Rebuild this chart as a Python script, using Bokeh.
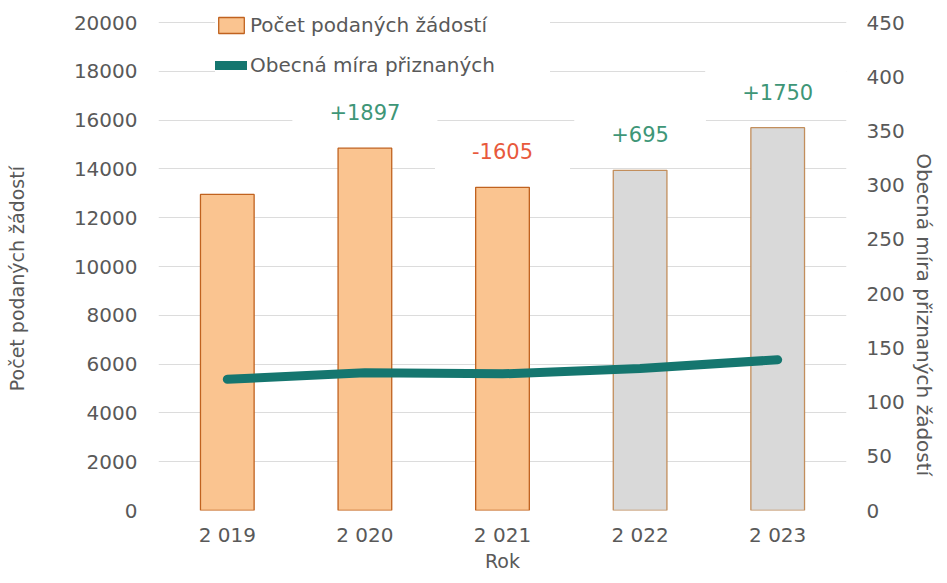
from bokeh.plotting import figure
from bokeh.models import (ColumnDataSource, FactorRange, Range1d, LinearAxis,
                          Legend, LegendItem, FixedTicker)
from bokeh.core.properties import value
from bokeh.embed import file_html
from bokeh.resources import INLINE

# ---- data ----
years = ["2\u00a0019", "2\u00a0020", "2\u00a0021", "2\u00a0022", "2\u00a0023"]
applications = [12953, 14850, 13245, 13940, 15690]
recognition_rate = [121, 127, 126, 131, 139]
left_ticks = [0, 2000, 4000, 6000, 8000, 10000, 12000, 14000, 16000, 18000, 20000]
right_ticks = [0, 50, 100, 150, 200, 250, 300, 350, 400, 450]

# ---- styles ----
FONT = "DejaVu Sans"
GREY = "#595959"
ORANGE_FILL = "#FAC490"
ORANGE_LINE = "#C0621F"
GREY_FILL = "#D9D9D9"
GREY_LINE = "#C28E5C"
TEAL = "#15766F"
UP = "#3E9677"
DOWN = "#E8593C"
NB = "\u00a0"

# layout: the plot frame is extended above the top tick so that the legend
# (which sits above the top gridline in the original) is not clipped
AXIS_PX = 488          # pixels between 0 and the top tick
HEADROOM_PX = 18       # extra frame pixels above the top tick
FRAME_H = AXIS_PX + HEADROOM_PX
left_end = left_ticks[-1] * FRAME_H / AXIS_PX
right_end = right_ticks[-1] * FRAME_H / AXIS_PX

bar_fill = [ORANGE_FILL if i < 3 else GREY_FILL for i in range(len(years))]
bar_line = [ORANGE_LINE if i < 3 else GREY_LINE for i in range(len(years))]

diffs = [applications[i] - applications[i - 1] for i in range(1, len(applications))]
diff_text = [f"{d:+d}" for d in diffs]
diff_color = [UP if d > 0 else DOWN for d in diffs]

bars_src = ColumnDataSource(dict(year=years, apps=applications, fill=bar_fill, line=bar_line))
line_src = ColumnDataSource(dict(year=years, rate=recognition_rate))
lab_src = ColumnDataSource(dict(year=years[1:], apps=applications[1:], text=diff_text, color=diff_color))

p = figure(x_range=FactorRange(*years), y_range=Range1d(0, left_end),
           frame_width=688, frame_height=FRAME_H,
           output_backend="svg", toolbar_location=None,
           min_border_left=158, min_border_right=85,
           min_border_top=22 - HEADROOM_PX, min_border_bottom=57)
p.extra_y_ranges = {"rate": Range1d(0, right_end)}
p.outline_line_color = None
p.background_fill_color = "white"
p.border_fill_color = "white"

p.xgrid.visible = False
p.ygrid.ticker = FixedTicker(ticks=left_ticks)
p.ygrid.grid_line_color = "#DCDCDC"
p.ygrid.grid_line_width = 1

bars = p.vbar(x="year", top="apps", width=0.39, source=bars_src,
              fill_color="fill", line_color="line", line_width=1.3)
line = p.line(x="year", y="rate", source=line_src, y_range_name="rate",
              line_color=TEAL, line_width=9, line_cap="round", line_join="round")

p.text(x="year", y="apps", text="text", source=lab_src, text_color="color",
       text_font=value(FONT), text_font_size="21px", text_align="center",
       text_baseline="middle", y_offset=-36,
       background_fill_color="white", padding=(37, 13))

def style_axis(ax, size="20px", label_size="20px"):
    ax.axis_line_color = None
    ax.major_tick_line_color = None
    ax.minor_tick_line_color = None
    ax.major_tick_out = 0
    ax.major_tick_in = 0
    ax.minor_tick_out = 0
    ax.minor_tick_in = 0
    ax.major_label_text_font = FONT
    ax.major_label_text_font_size = size
    ax.major_label_text_color = GREY
    ax.axis_label_text_font = FONT
    ax.axis_label_text_font_size = label_size
    ax.axis_label_text_color = GREY
    ax.axis_label_text_font_style = "normal"

yl = p.yaxis[0]
yl.ticker = FixedTicker(ticks=left_ticks)
yl.axis_label = "Počet podaných žádostí" + NB * 7
style_axis(yl, label_size="19px")
yl.major_label_standoff = 21
yl.axis_label_standoff = 43

yr = LinearAxis(y_range_name="rate", ticker=FixedTicker(ticks=right_ticks),
                axis_label=NB * 18 + "Obecná míra přiznaných žádostí")
style_axis(yr)
yr.major_label_standoff = 20
yr.axis_label_standoff = 4
p.add_layout(yr, "right")

xa = p.xaxis[0]
xa.axis_label = "Rok"
style_axis(xa, label_size="19px")
xa.major_label_standoff = 12
xa.axis_label_standoff = 0

legend = Legend(items=[
    LegendItem(label="Počet podaných žádostí", renderers=[bars], index=0),
    LegendItem(label="Obecná míra přiznaných", renderers=[line]),
], location=(57, 433))
legend.label_text_font = FONT
legend.label_text_font_size = "20px"
legend.label_text_color = GREY
legend.glyph_width = 32
legend.glyph_height = 20
legend.label_height = 23
legend.label_standoff = 3
legend.spacing = 16
legend.padding = 6
legend.label_width = 300
legend.border_line_color = None
legend.background_fill_color = "white"
legend.background_fill_alpha = 1
p.add_layout(legend)

open("out.html", "w").write(file_html(p, INLINE))
